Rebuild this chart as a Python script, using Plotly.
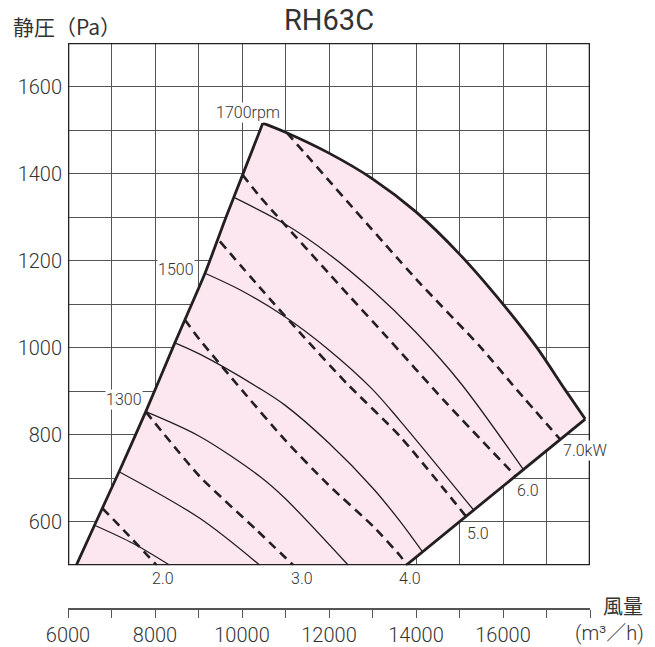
import plotly.graph_objects as go

# ---------------- data (airflow m3/h, static pressure Pa) ----------------
left_q = [6190, 6610, 7174, 7788, 8456, 9150, 9634, 10014, 10480]
left_p = [500, 592, 715, 853, 1011, 1171, 1300, 1397, 1516]

top_q = [10480, 11000, 12000, 13000, 14000, 15000, 16000, 16780, 17430, 17890]
top_p = [1516, 1495, 1447, 1388, 1312, 1215, 1100, 1000, 903, 836]

right_q = [13772, 15000, 17890]
right_p = [500, 600, 836]

rpm_curves = {
    "1100": ([6610, 7500, 8340], [592, 550, 500]),
    "1200": ([7174, 9030, 10412], [715, 608, 500]),
    "1300": ([7788, 9030, 10412, 10987, 12444], [853, 796, 704, 654, 500]),
    "1400": ([8456, 9030, 10412, 10987, 11984, 13020, 13634, 14150],
             [1011, 985, 906, 868, 782, 676, 601, 531]),
    "1500": ([9150, 9951, 10987, 11984, 12983, 13634, 15325],
             [1171, 1133, 1071, 996, 906, 832, 627]),
    "1600": ([9837, 10987, 11984, 13020, 13980, 15015, 16470],
             [1344, 1284, 1216, 1130, 1037, 920, 720]),
}

kw_curves = {
    "2.0": ([6791, 7344, 8040], [631, 574, 500]),
    "3.0": ([7788, 9030, 10336, 11180], [853, 704, 581, 500]),
    "4.0": ([8686, 9030, 10028, 10987, 11984, 13020, 13634, 13800],
            [1064, 1018, 899, 788, 685, 589, 522, 500]),
    "5.0": ([9491, 10412, 11409, 12407, 13634, 15153],
            [1244, 1138, 1026, 918, 796, 612]),
    "6.0": ([10014, 10412, 12483, 13289, 14631, 16290],
            [1397, 1347, 1117, 1029, 880, 705]),
    "7.0": ([11030, 14018, 15477, 16320, 17318],
            [1494, 1156, 1002, 903, 789]),
}

x_tick_vals = [6000, 8000, 10000, 12000, 14000, 16000]
x_tick_text = ["6000", "8000", "10000", "12000", "14000", "16000"]
y_tick_vals = [600, 800, 1000, 1200, 1400, 1600]

# labels inside the plot: (text, q, p)
curve_labels = [
    ("1700rpm", 10140, 1540),
    ("1500", 8480, 1179),
    ("1300", 7285, 880),
    ("5.0", 15418, 573),
    ("6.0", 16568, 673),
    ("7.0kW", 17876, 763),
]
# kW labels below the plot frame: (text, q)
below_labels = [("2.0", 8186), ("3.0", 11390), ("4.0", 13864)]

INK = "#231f20"
TXT = "#333333"
GRID = "#555555"
PINK = "#fce7f0"
LATIN = "Roboto, Noto Sans CJK JP, sans-serif"
CJK = "Noto Sans CJK JP, sans-serif"

W, H = 655, 647
L, R, T, B = 68, 65, 43, 38
PW = W - L - R
PH = H - T - B


def px(sx):   # screen x -> paper x
    return (sx - L) / PW


def py(sy):   # screen y -> paper y
    return (H - B - sy) / PH


fig = go.Figure()

poly_q = left_q + top_q[1:] + right_q[::-1][1:]
poly_p = left_p + top_p[1:] + right_p[::-1][1:]
fig.add_trace(go.Scatter(x=poly_q, y=poly_p, fill="toself", fillcolor=PINK,
                         mode="lines", line=dict(width=0), hoverinfo="skip",
                         showlegend=False))

for name, (q, p) in rpm_curves.items():
    fig.add_trace(go.Scatter(x=q, y=p, mode="lines",
                             line=dict(color=INK, width=1.3, shape="spline", smoothing=0.9),
                             showlegend=False, name=name + "rpm"))

for name, (q, p) in kw_curves.items():
    fig.add_trace(go.Scatter(x=q, y=p, mode="lines",
                             line=dict(color=INK, width=2.6, dash="9px,6px",
                                       shape="spline", smoothing=0.6),
                             showlegend=False, name=name + "kW"))

fig.add_trace(go.Scatter(x=left_q, y=left_p, mode="lines",
                         line=dict(color=INK, width=2.8, shape="spline", smoothing=0.5),
                         showlegend=False))
fig.add_trace(go.Scatter(x=top_q, y=top_p, mode="lines",
                         line=dict(color=INK, width=2.8, shape="spline", smoothing=0.8),
                         showlegend=False))
fig.add_trace(go.Scatter(x=right_q, y=right_p, mode="lines",
                         line=dict(color=INK, width=2.8), showlegend=False))

fig.add_trace(go.Scatter(x=[6000, 18000], y=[500, 500], xaxis="x2", mode="markers",
                         marker=dict(opacity=0), hoverinfo="skip", showlegend=False))

fig.add_shape(type="rect", xref="x", yref="y", x0=6000, x1=18000, y0=500, y1=1700,
              line=dict(color=INK, width=2.6), layer="above")

for text, q, p in curve_labels:
    fig.add_annotation(x=q, y=p, xref="x", yref="y", text=text, showarrow=False,
                       font=dict(family=LATIN, size=16, color=TXT, weight=300),
                       bgcolor="white", borderpad=0)
for text, q in below_labels:
    fig.add_annotation(x=q, y=py(578), xref="x", yref="paper", text=text,
                       showarrow=False, yanchor="middle",
                       font=dict(family=LATIN, size=16, color=TXT, weight=300))

fig.add_annotation(xref="paper", yref="paper", x=px(329), y=py(20), text="RH63C",
                   showarrow=False, font=dict(family=LATIN, size=29, color=TXT),
                   xanchor="center", yanchor="middle", borderpad=0)
fig.add_annotation(xref="paper", yref="paper", x=px(11), y=py(26),
                   text="静圧（Pa）", showarrow=False, xanchor="left", yanchor="middle",
                   font=dict(family=CJK, size=21, color=TXT))
fig.add_annotation(xref="paper", yref="paper", x=px(644), y=py(605),
                   text="風量", showarrow=False, xanchor="right", yanchor="middle",
                   font=dict(family=CJK, size=20, color=TXT), borderpad=0)
fig.add_annotation(xref="paper", yref="paper", x=px(645), y=py(633),
                   text="(m³／h)", showarrow=False, xanchor="right", borderpad=0,
                   yanchor="middle", font=dict(family=LATIN, size=20, color=TXT, weight=300))

fig.update_layout(
    width=W, height=H,
    margin=dict(l=L, r=R, t=T, b=B, autoexpand=False),
    paper_bgcolor="white", plot_bgcolor="white",
    xaxis=dict(range=[6000, 18000], dtick=1000, tick0=0, showgrid=True,
               gridcolor=GRID, gridwidth=1, showticklabels=False, ticks="",
               zeroline=False, showline=False, fixedrange=True, automargin=False),
    xaxis2=dict(range=[6000, 18000], overlaying="x", anchor="free", position=0,
                side="bottom", tickmode="array", tickvals=x_tick_vals,
                ticktext=x_tick_text, automargin=False,
                ticks="outside", ticklen=8, tickwidth=1.2, tickcolor=GRID,
                showline=True, linecolor=GRID, linewidth=1.5, showgrid=False,
                zeroline=False,
                minor=dict(dtick=1000, tick0=0, ticks="outside", ticklen=8,
                           tickwidth=1.2, tickcolor=GRID, showgrid=False),
                tickfont=dict(family=LATIN, size=20, color=TXT, weight=300)),
    yaxis=dict(range=[500, 1700], domain=[(H - B - 565.3) / PH, 1], tickmode="array",
               tickvals=y_tick_vals, ticks="", showgrid=True, gridcolor=GRID,
               gridwidth=1, zeroline=False, showline=False, automargin=False,
               minor=dict(dtick=100, tick0=0, showgrid=True, gridcolor=GRID, gridwidth=1),
               ticklabelstandoff=5,
               tickfont=dict(family=LATIN, size=20, color=TXT, weight=300)),
)

fig.write_html("out.html", config={"displayModeBar": False},
               post_script="document.body.style.margin='0';"
                           "document.body.style.overflow='hidden';")
